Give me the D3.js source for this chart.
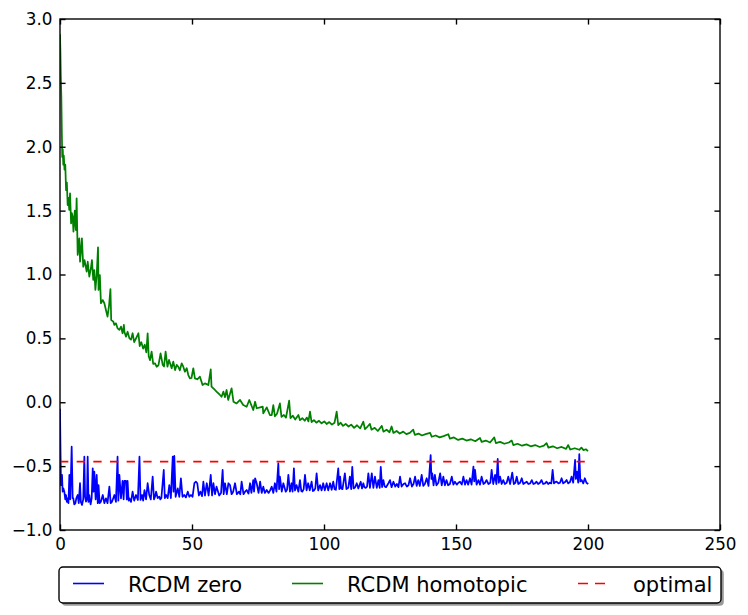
<!DOCTYPE html>
<html>
<head>
<meta charset="utf-8">
<script src="https://cdn.jsdelivr.net/npm/d3@7"></script>
<style>
  body { margin: 0; background: #fff; }
  text { font-family: "DejaVu Sans", sans-serif; }
</style>
</head>
<body>
<div id="datavis"></div>
<script>
const xTicks = [0, 50, 100, 150, 200, 250]
const yTicks = [-1.0, -0.5, 0.0, 0.5, 1.0, 1.5, 2.0, 2.5, 3.0]
const seriesNames = ["RCDM zero", "RCDM homotopic", "optimal"]
const seriesColors = ["#0000ff", "#008000", "#ff0000"]

// [iteration, value]
const rcdmZero = [
  [0,-0.05],[0.2,-0.40],[0.38,-0.65],[0.76,-0.569],[1.0,-0.70],[1.26,-0.674],[1.64,-0.70],[2.0,-0.76],[2.27,-0.726],[2.6,-0.78],
  [2.9,-0.752],[3.2,-0.79],[3.54,-0.569],[3.9,-0.76],[4.42,-0.348],[4.8,-0.75],[5.05,-0.752],[5.4,-0.80],[5.81,-0.791],[6.2,-0.75],
  [6.69,-0.726],[7.1,-0.79],[7.58,-0.634],[7.9,-0.78],[8.33,-0.804],[8.8,-0.76],[9.22,-0.426],[9.5,-0.74],[9.85,-0.778],[10.2,-0.76],
  [10.48,-0.426],[10.8,-0.78],[11.1,-0.726],[11.6,-0.80],[12.0,-0.75],[12.4,-0.517],[12.7,-0.70],[13.0,-0.543],[13.5,-0.76],[13.9,-0.569],
  [14.3,-0.79],[14.6,-0.648],[15.0,-0.79],[15.5,-0.778],[16.2,-0.726],[16.8,-0.79],[17.4,-0.752],[18.0,-0.79],[18.7,-0.661],[19.2,-0.79],
  [19.7,-0.778],[20.2,-0.75],[20.6,-0.726],[21.2,-0.78],[21.8,-0.426],[22.1,-0.77],[22.5,-0.569],[23.1,-0.752],[23.7,-0.616],[24.1,-0.76],
  [24.4,-0.616],[25.0,-0.616],[25.3,-0.76],[25.6,-0.616],[26.0,-0.77],[26.3,-0.752],[26.9,-0.78],[27.5,-0.70],[28.1,-0.77],[28.8,-0.726],
  [29.5,-0.765],[30.1,-0.426],[30.5,-0.765],[31.1,-0.726],[31.5,-0.77],[32.0,-0.687],[32.6,-0.76],[33.2,-0.634],[33.8,-0.726],[34.4,-0.76],
  [35.1,-0.582],[35.6,-0.76],[36.0,-0.74],[36.4,-0.70],[37.0,-0.75],[37.6,-0.739],[38.0,-0.76],[38.4,-0.75],[39.3,-0.53],[39.7,-0.75],
  [40.2,-0.726],[40.8,-0.75],[41.4,-0.648],[42.0,-0.75],[42.7,-0.426],[43.0,-0.70],[43.3,-0.42],[43.8,-0.74],[44.6,-0.674],[45.2,-0.74],
  [45.8,-0.595],[46.4,-0.74],[47.1,-0.726],[47.7,-0.745],[48.4,-0.70],[49.0,-0.74],[49.6,-0.726],[50.2,-0.74],[50.9,-0.634],[51.5,-0.622],
  [52.0,-0.634],[52.6,-0.73],[53.2,-0.70],[53.8,-0.735],[54.3,-0.622],[54.9,-0.73],[55.6,-0.634],[56.3,-0.73],[57.1,-0.569],[57.6,-0.73],
  [58.1,-0.634],[58.7,-0.72],[59.3,-0.661],[60.3,-0.73],[61.0,-0.71],[61.6,-0.53],[62.0,-0.72],[62.5,-0.634],[63.2,-0.72],[63.8,-0.634],
  [64.4,-0.648],[65.0,-0.72],[65.6,-0.70],[66.3,-0.634],[67.0,-0.72],[67.8,-0.70],[68.3,-0.72],[68.8,-0.622],[69.5,-0.72],[70.1,-0.70],
  [70.7,-0.687],[71.4,-0.715],[72.0,-0.634],[72.5,-0.71],[73.2,-0.609],[73.5,-0.70],[73.9,-0.595],[74.5,-0.634],[75.2,-0.71],[75.8,-0.622],
  [76.4,-0.71],[77.0,-0.661],[77.6,-0.71],[78.3,-0.687],[79.0,-0.71],[79.6,-0.69],[80.2,-0.661],[80.8,-0.71],[81.4,-0.634],[82.0,-0.70],
  [82.7,-0.478],[83.0,-0.68],[83.3,-0.582],[84.0,-0.70],[84.6,-0.634],[85.5,-0.70],[86.0,-0.685],[86.5,-0.569],[87.1,-0.70],[87.7,-0.634],
  [88.1,-0.70],[88.6,-0.517],[89.0,-0.69],[89.6,-0.648],[90.3,-0.70],[90.9,-0.609],[91.4,-0.695],[91.8,-0.70],[92.3,-0.68],[92.8,-0.569],
  [93.4,-0.69],[94.0,-0.634],[94.6,-0.69],[95.3,-0.622],[95.8,-0.695],[96.2,-0.69],[96.7,-0.675],[97.2,-0.556],[97.8,-0.69],[98.5,-0.648],
  [99.1,-0.69],[99.7,-0.634],[100.3,-0.69],[101.0,-0.634],[101.6,-0.69],[102.3,-0.634],[102.9,-0.685],[103.5,-0.622],[104.0,-0.68],[104.5,-0.685],
  [105.4,-0.517],[105.8,-0.68],[106.1,-0.582],[106.5,-0.675],[107.0,-0.68],[107.9,-0.556],[108.5,-0.68],[109.2,-0.67],[109.8,-0.582],[110.3,-0.68],
  [110.7,-0.505],[111.2,-0.675],[111.8,-0.665],[112.4,-0.634],[113.0,-0.675],[113.9,-0.622],[114.4,-0.675],[114.9,-0.634],[115.3,-0.665],[115.8,-0.67],
  [116.3,-0.66],[116.8,-0.556],[117.4,-0.67],[118.1,-0.556],[118.7,-0.67],[119.3,-0.582],[120.0,-0.67],[120.6,-0.609],[121.1,-0.67],[121.5,-0.505],
  [122.0,-0.665],[122.5,-0.609],[123.0,-0.66],[123.5,-0.665],[124.4,-0.634],[125.0,-0.609],[125.6,-0.665],[126.3,-0.622],[127.0,-0.66],[127.6,-0.64],
  [128.2,-0.665],[128.8,-0.582],[129.4,-0.66],[130.1,-0.64],[130.7,-0.634],[131.4,-0.66],[132.0,-0.65],[132.6,-0.595],[133.3,-0.66],[133.9,-0.64],
  [134.5,-0.582],[135.1,-0.655],[135.7,-0.609],[136.3,-0.655],[137.0,-0.569],[137.6,-0.655],[138.2,-0.64],[138.9,-0.595],[139.6,-0.655],[140.4,-0.413],
  [140.7,-0.60],[141.0,-0.556],[141.5,-0.65],[142.0,-0.569],[142.6,-0.65],[143.3,-0.63],[144.0,-0.556],[144.6,-0.65],[145.2,-0.582],[145.8,-0.65],
  [146.4,-0.609],[147.0,-0.65],[147.7,-0.64],[148.4,-0.582],[149.0,-0.645],[149.6,-0.622],[150.3,-0.645],[150.9,-0.63],[151.5,-0.622],[152.2,-0.645],
  [152.8,-0.582],[153.4,-0.645],[154.0,-0.609],[154.6,-0.645],[155.3,-0.595],[155.9,-0.645],[156.6,-0.504],[156.9,-0.62],[157.2,-0.53],[157.8,-0.645],
  [158.5,-0.609],[159.1,-0.645],[159.7,-0.582],[160.4,-0.64],[161.0,-0.63],[161.6,-0.609],[162.3,-0.64],[163.0,-0.63],[163.5,-0.53],[164.1,-0.64],
  [164.8,-0.569],[165.3,-0.64],[165.8,-0.444],[166.2,-0.63],[166.7,-0.582],[167.3,-0.64],[167.9,-0.609],[168.5,-0.64],[169.2,-0.63],[169.8,-0.582],
  [170.5,-0.64],[171.3,-0.551],[171.9,-0.64],[172.5,-0.63],[173.0,-0.582],[173.6,-0.64],[174.3,-0.63],[174.9,-0.595],[175.5,-0.64],[176.2,-0.63],
  [176.8,-0.622],[177.4,-0.64],[178.1,-0.635],[178.7,-0.609],[179.3,-0.64],[179.9,-0.635],[180.5,-0.622],[181.1,-0.64],[181.8,-0.63],[182.4,-0.609],
  [183.0,-0.64],[183.7,-0.635],[184.3,-0.622],[184.9,-0.64],[185.5,-0.63],[186.1,-0.635],[186.6,-0.53],[187.1,-0.635],[187.6,-0.625],[188.1,-0.622],
  [188.8,-0.635],[189.4,-0.63],[190.0,-0.595],[190.6,-0.635],[191.3,-0.625],[191.9,-0.609],[192.5,-0.635],[193.2,-0.625],[193.8,-0.582],[194.4,-0.63],
  [195.1,-0.452],[195.4,-0.60],[195.8,-0.543],[196.3,-0.63],[196.7,-0.407],[197.1,-0.62],[197.6,-0.609],[198.2,-0.635],[198.8,-0.595],[199.4,-0.63],
  [200.1,-0.64]
]

const rcdmHomotopic = [
  [0,2.88],[0.15,2.75],[0.3,2.56],[0.5,2.4],[0.7,2.1],[0.85,1.92],[1.05,1.98],[1.25,1.86],[1.45,1.93],[1.7,1.82],
  [2.0,1.86],[2.3,1.66],[2.6,1.72],[2.9,1.544],[3.2,1.60],[3.5,1.505],[3.8,1.636],[4.2,1.40],[4.5,1.48],[4.8,1.452],
  [5.1,1.335],[5.6,1.50],[6.0,1.348],[6.3,1.596],[6.7,1.153],[7.3,1.283],[7.6,1.10],[8.3,1.283],[8.8,1.061],[9.3,1.113],
  [10.1,1.022],[10.5,1.10],[11.1,0.983],[11.7,1.048],[12.1,1.113],[12.6,0.957],[13.0,1.035],[13.4,0.879],[13.9,0.996],[14.4,1.213],
  [14.6,0.879],[15.1,0.996],[15.5,0.775],[16.2,0.80],[16.8,0.775],[17.4,0.722],[18.0,0.67],[18.6,0.761],[19.1,0.886],[19.4,0.644],
  [20.2,0.631],[20.6,0.605],[21.2,0.618],[21.8,0.579],[22.5,0.566],[23.1,0.592],[23.7,0.54],[24.2,0.605],[24.4,0.552],[25.0,0.513],
  [25.6,0.552],[26.3,0.50],[26.9,0.49],[27.5,0.54],[28.1,0.47],[28.8,0.50],[29.7,0.54],[30.2,0.44],[30.8,0.47],[31.5,0.42],
  [32.1,0.45],[32.7,0.39],[33.2,0.54],[33.6,0.36],[34.1,0.33],[34.7,0.396],[35.3,0.30],[36.0,0.305],[36.6,0.278],[37.3,0.29],
  [38.1,0.383],[38.9,0.292],[39.4,0.28],[40.0,0.396],[40.7,0.278],[41.3,0.331],[42.3,0.266],[42.9,0.318],[43.6,0.252],[44.2,0.292],
  [44.8,0.278],[45.4,0.25],[46.1,0.305],[46.7,0.278],[47.3,0.239],[48.0,0.266],[48.6,0.213],[49.2,0.187],[49.8,0.19],[50.5,0.266],
  [51.1,0.187],[52.0,0.18],[53.0,0.20],[54.0,0.135],[54.9,0.148],[56.2,0.135],[57.1,0.258],[57.4,0.122],[58.7,0.096],[59.3,0.083],
  [60.6,0.057],[61.2,0.043],[61.9,0.083],[62.5,0.04],[63.1,0.096],[63.7,0.018],[65.0,0.109],[65.7,0.004],[66.9,-0.009],[68.2,0.018],
  [69.4,-0.022],[70.7,-0.035],[71.7,0.018],[73.2,-0.061],[73.9,0.004],[74.5,-0.047],[75.8,-0.04],[76.8,-0.035],[77.0,-0.087],[78.3,-0.04],
  [79.5,-0.10],[80.2,-0.10],[80.8,-0.022],[81.4,-0.11],[82.2,-0.09],[83.3,-0.009],[83.9,-0.115],[84.8,-0.10],[85.6,-0.12],[86.8,0.012],
  [87.3,-0.125],[88.2,-0.105],[89.1,-0.135],[90.3,-0.10],[90.9,-0.14],[91.8,-0.125],[92.7,-0.145],[93.5,-0.12],[94.1,-0.15],[94.7,-0.074],
  [95.3,-0.155],[96.2,-0.14],[97.1,-0.16],[98.1,-0.145],[99.1,-0.165],[100.1,-0.15],[101.0,-0.17],[102.0,-0.155],[103.0,-0.175],[104.0,-0.16],
  [104.8,-0.074],[105.4,-0.18],[106.3,-0.16],[107.2,-0.185],[108.2,-0.17],[109.3,-0.19],[110.3,-0.175],[111.4,-0.20],[112.5,-0.18],[113.7,-0.205],
  [114.9,-0.152],[115.5,-0.21],[116.5,-0.19],[117.4,-0.17],[118.0,-0.215],[119.2,-0.20],[120.4,-0.225],[121.9,-0.185],[122.5,-0.23],[123.7,-0.215],
  [124.8,-0.235],[125.6,-0.19],[126.3,-0.24],[127.5,-0.225],[128.7,-0.245],[130.0,-0.23],[131.2,-0.25],[132.5,-0.24],[133.8,-0.215],[134.4,-0.255],
  [135.8,-0.245],[137.1,-0.26],[138.5,-0.25],[140.2,-0.24],[140.8,-0.27],[142.3,-0.26],[143.8,-0.275],[145.3,-0.265],[147.1,-0.25],[147.7,-0.285],
  [149.2,-0.275],[150.8,-0.295],[152.4,-0.285],[154.0,-0.30],[155.6,-0.29],[157.3,-0.305],[159.1,-0.28],[159.7,-0.31],[161.3,-0.30],[162.9,-0.315],
  [164.5,-0.275],[165.1,-0.32],[166.7,-0.31],[168.3,-0.325],[170.0,-0.315],[171.1,-0.30],[171.7,-0.335],[173.3,-0.325],[175.0,-0.34],[176.7,-0.33],
  [178.3,-0.345],[180.0,-0.335],[181.7,-0.35],[183.3,-0.34],[184.3,-0.32],[185.0,-0.355],[186.7,-0.345],[188.3,-0.36],[190.0,-0.35],[191.7,-0.365],
  [192.5,-0.335],[193.3,-0.37],[195.0,-0.36],[196.7,-0.372],[197.5,-0.355],[198.3,-0.375],[199.2,-0.368],[200.0,-0.382]
]

const optimal = [[0,-0.465],[200,-0.465]]

const series = [rcdmZero, rcdmHomotopic, optimal]

// figure layout
const margin = {top: 19, right: 28, bottom: 85, left: 60},
    width = 748 - margin.left - margin.right,
    height = 615 - margin.top - margin.bottom

const lw = 1.39
const tickLen = 5.56

const root = d3.select("#datavis")
  .append("svg")
    .attr("width", 748)
    .attr("height", 615)

root.append("rect").attr("width", 748).attr("height", 615).attr("fill", "#fff")

const svg = root.append("g")
    .attr("transform", "translate(" + margin.left + "," + margin.top + ")")

const x = d3.scaleLinear().domain([0, 250]).range([0, width])
const y = d3.scaleLinear().domain([-1, 3]).range([height, 0])

svg.append("clipPath").attr("id", "plotclip")
  .append("rect").attr("width", width).attr("height", height)

const line = d3.line()
    .x(d => x(d[0]))
    .y(d => y(d[1]))

const plot = svg.append("g").attr("clip-path", "url(#plotclip)")

// the real runs are dense, so the noisy series read a little heavier
series.forEach((s, i) => {
  plot.append("path")
    .datum(s)
    .attr("fill", "none")
    .attr("stroke", seriesColors[i])
    .attr("stroke-width", i === 2 ? 1.6 : 1.75)
    .attr("stroke-linejoin", "round")
    .attr("stroke-dasharray", i === 2 ? "8.33,8.33" : null)
    .attr("d", line)
})

// axes, ticks pointing inward like the classic style
const fmt = d3.format(".1f")

const axisStyle = g => {
  g.select(".domain").remove()
  g.selectAll(".tick line").attr("stroke", "#000").attr("stroke-width", lw)
  g.selectAll(".tick text")
    .attr("fill", "#000")
    .style("font-family", "'DejaVu Sans', sans-serif")
    .style("font-size", "16.8px")
}

svg.append("g")
  .attr("transform", "translate(0," + height + ")")
  .call(d3.axisBottom(x).tickValues(xTicks).tickFormat(d3.format("d")).tickSize(-tickLen).tickPadding(8.2))
  .call(axisStyle)

svg.append("g")
  .call(d3.axisTop(x).tickValues(xTicks).tickFormat("").tickSize(-tickLen))
  .call(axisStyle)

svg.append("g")
  .call(d3.axisLeft(y).tickValues(yTicks).tickFormat(fmt).tickSize(-tickLen).tickPadding(7.5))
  .call(axisStyle)

svg.append("g")
  .attr("transform", "translate(" + width + ",0)")
  .call(d3.axisRight(y).tickValues(yTicks).tickFormat("").tickSize(-tickLen))
  .call(axisStyle)

svg.append("rect")
  .attr("width", width)
  .attr("height", height)
  .attr("fill", "none")
  .attr("stroke", "#000")
  .attr("stroke-width", lw)

// legend below the axes
const legend = root.append("g")
const box = {x: 59, y: 567, w: 662, h: 36}

legend.append("rect")
  .attr("x", box.x + 2.8).attr("y", box.y + 2.8)
  .attr("width", box.w).attr("height", box.h)
  .attr("rx", 4)
  .attr("fill", "#9a9a9a")

legend.append("rect")
  .attr("x", box.x).attr("y", box.y)
  .attr("width", box.w).attr("height", box.h)
  .attr("rx", 4)
  .attr("fill", "#fff")
  .attr("stroke", "#000")
  .attr("stroke-width", lw)

const handleX = [73, 292, 578]
const labelX = [128, 347, 633]

seriesNames.forEach((name, i) => {
  legend.append("line")
    .attr("x1", handleX[i]).attr("x2", handleX[i] + 31)
    .attr("y1", 583.5).attr("y2", 583.5)
    .attr("stroke", seriesColors[i])
    .attr("stroke-width", 1.6)
    .attr("stroke-dasharray", i === 2 ? "10,7" : null)
  legend.append("text")
    .attr("x", labelX[i])
    .attr("y", 591.5)
    .style("font-size", "21px")
    .attr("fill", "#000")
    .text(name)
})
</script>
</body>
</html>
